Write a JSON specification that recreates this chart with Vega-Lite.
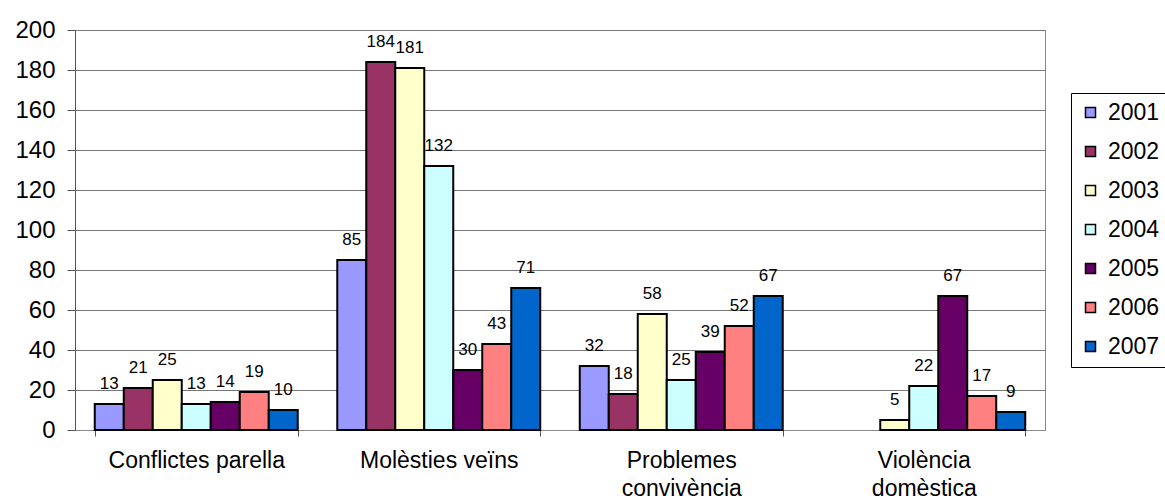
{
  "$schema": "https://vega.github.io/schema/vega-lite/v6.json",
  "width": 970,
  "height": 400,
  "autosize": {"type": "none"},
  "padding": {"left": 75, "top": 30, "right": 120, "bottom": 70},
  "background": "white",
  "config": {
    "font": "Liberation Sans",
    "view": {"stroke": "#888888", "strokeWidth": 1}
  },
  "data": {
    "values": [
      {"cat": "Conflictes parella", "year": "2001", "value": 13},
      {"cat": "Conflictes parella", "year": "2002", "value": 21},
      {"cat": "Conflictes parella", "year": "2003", "value": 25},
      {"cat": "Conflictes parella", "year": "2004", "value": 13},
      {"cat": "Conflictes parella", "year": "2005", "value": 14},
      {"cat": "Conflictes parella", "year": "2006", "value": 19},
      {"cat": "Conflictes parella", "year": "2007", "value": 10},
      {"cat": "Molèsties veïns", "year": "2001", "value": 85},
      {"cat": "Molèsties veïns", "year": "2002", "value": 184},
      {"cat": "Molèsties veïns", "year": "2003", "value": 181},
      {"cat": "Molèsties veïns", "year": "2004", "value": 132},
      {"cat": "Molèsties veïns", "year": "2005", "value": 30},
      {"cat": "Molèsties veïns", "year": "2006", "value": 43},
      {"cat": "Molèsties veïns", "year": "2007", "value": 71},
      {"cat": "Problemes convivència", "year": "2001", "value": 32},
      {"cat": "Problemes convivència", "year": "2002", "value": 18},
      {"cat": "Problemes convivència", "year": "2003", "value": 58},
      {"cat": "Problemes convivència", "year": "2004", "value": 25},
      {"cat": "Problemes convivència", "year": "2005", "value": 39},
      {"cat": "Problemes convivència", "year": "2006", "value": 52},
      {"cat": "Problemes convivència", "year": "2007", "value": 67},
      {"cat": "Violència domèstica", "year": "2003", "value": 5},
      {"cat": "Violència domèstica", "year": "2004", "value": 22},
      {"cat": "Violència domèstica", "year": "2005", "value": 67},
      {"cat": "Violència domèstica", "year": "2006", "value": 17},
      {"cat": "Violència domèstica", "year": "2007", "value": 9}
    ]
  },
  "encoding": {
    "x": {
      "field": "cat",
      "type": "nominal",
      "sort": null,
      "scale": {"paddingInner": 0.163, "paddingOuter": 0.0815},
      "axis": {
        "title": null,
        "labelAngle": 0,
        "labelFontSize": 23,
        "labelColor": "black",
        "labelPadding": 13,
        "labelLineHeight": 28,
        "labelLimit": 400,
        "labelExpr": "datum.value == 'Problemes convivència' ? ['Problemes', 'convivència'] : datum.value == 'Violència domèstica' ? ['Violència', 'domèstica'] : datum.value",
        "tickBand": "extent",
        "tickSize": 6,
        "tickColor": "#555555",
        "domainColor": "#888888",
        "grid": false
      }
    },
    "xOffset": {"field": "year", "type": "nominal", "scale": {"paddingInner": 0, "paddingOuter": 0}},
    "y": {
      "field": "value",
      "type": "quantitative",
      "scale": {"domain": [0, 200], "nice": false},
      "axis": {
        "title": null,
        "values": [0, 20, 40, 60, 80, 100, 120, 140, 160, 180, 200],
        "labelFontSize": 24,
        "labelColor": "black",
        "labelPadding": 12,
        "tickSize": 8,
        "tickColor": "#555555",
        "domainColor": "#555555",
        "gridColor": "#777777",
        "gridWidth": 1
      }
    }
  },
  "layer": [
    {
      "mark": {"type": "bar", "stroke": "black", "strokeWidth": 2},
      "encoding": {
        "color": {
          "field": "year",
          "type": "nominal",
          "scale": {
            "domain": ["2001", "2002", "2003", "2004", "2005", "2006", "2007"],
            "range": ["#9999FF", "#993366", "#FFFFCC", "#CCFFFF", "#660066", "#FF8080", "#0066CC"]
          },
          "legend": {
            "title": null,
            "orient": "none",
            "legendX": 996,
            "legendY": 63,
            "strokeColor": "black",
            "fillColor": "white",
            "padding": 8,
            "symbolType": "square",
            "symbolSize": 100,
            "symbolStrokeColor": "black",
            "symbolStrokeWidth": 1.5,
            "labelFontSize": 23,
            "labelColor": "black",
            "labelOffset": 6,
            "rowPadding": 15
          }
        }
      }
    },
    {
      "mark": {"type": "text", "baseline": "alphabetic", "dy": -15, "fontSize": 17, "color": "black"},
      "encoding": {
        "text": {"field": "value", "type": "quantitative"}
      }
    }
  ]
}
